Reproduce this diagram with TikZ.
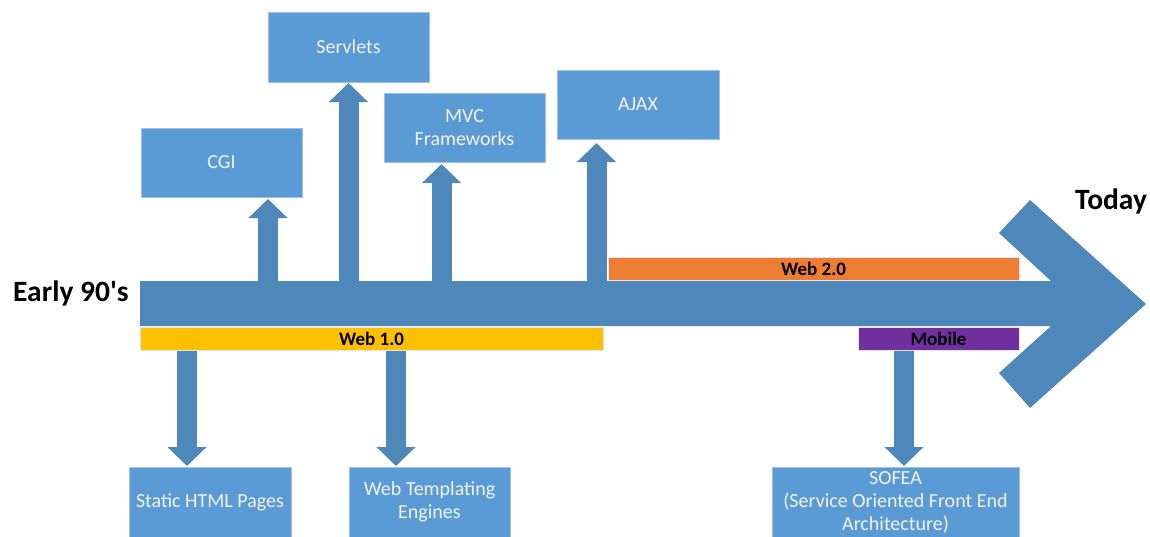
\documentclass[tikz,border=0pt]{standalone}
\usepackage{fontspec}
\setmainfont{Carlito}
\usetikzlibrary{arrows.meta}
\definecolor{boxblue}{HTML}{5B9BD5}
\definecolor{arrowblue}{HTML}{4E87BA}
\definecolor{webone}{HTML}{FFC000}
\definecolor{webtwo}{HTML}{ED7D31}
\definecolor{mobilepurple}{HTML}{7030A0}
\begin{document}
\begin{tikzpicture}[x=1pt,y=-1pt,
  techbox/.style={fill=boxblue, draw=boxblue!60!white, line width=0.7pt,
    text=white!95!black, font=\fontsize{20}{23}\selectfont, align=center,
    inner sep=0pt, outer sep=0pt, minimum width=161pt, minimum height=69pt},
  erabar/.style={draw=white!80!gray, line width=0.6pt, inner sep=0pt,
    outer sep=0pt, minimum height=23pt, text=black,
    font=\bfseries\fontsize{19}{20}\selectfont},
  branch/.style={draw=arrowblue, line width=20pt,
    -{Triangle[width=38pt,length=19pt]}},
  endlabel/.style={font=\bfseries\fontsize{29.5}{32}\selectfont, inner sep=0pt}]
\useasboundingbox (0,0) rectangle (1150,536);

% technology boxes above the time line
\node[techbox] (cgi)      at (221.5,162.5) {CGI};
\node[techbox, minimum height=70pt] (servlets) at (348.5,47) {Servlets};
\node[techbox] (mvc)      at (464.5,127.5) {MVC\\Frameworks};
\node[techbox, minimum width=162pt] (ajax) at (638,104.5) {AJAX};

% technology boxes below the time line
\node[techbox, minimum width=162pt, minimum height=70pt] (static) at (210,502) {Static HTML Pages};
\node[techbox, minimum height=70pt] (templ) at (429.5,502) {Web Templating\\Engines};
\node[techbox, minimum width=247pt, minimum height=70pt] (sofea) at (895.5,502)
  {SOFEA\\(Service Oriented Front End\\Architecture)};

% roots of the branch arrows on the time line
\coordinate (cgiroot)   at (268,283);
\coordinate (servroot)  at (348.5,283);
\coordinate (mvcroot)   at (441.5,283);
\coordinate (ajaxroot)  at (596.5,283);
\coordinate (statroot)  at (187,349);
\coordinate (templroot) at (396,349);
\coordinate (sofearoot) at (904,349);

\draw[branch, shorten >=2pt] (cgiroot)  -- (cgiroot |- cgi.south);
\draw[branch, shorten >=1pt] (servroot) -- (servroot |- servlets.south);
\draw[branch, shorten >=2pt] (mvcroot)  -- (mvcroot |- mvc.south);
\draw[branch, shorten >=4pt] (ajaxroot) -- (ajaxroot |- ajax.south);
\draw[branch, shorten >=1pt] (statroot)  -- (statroot |- static.north);
\draw[branch, shorten >=1pt] (templroot) -- (templroot |- templ.north);
\draw[branch, shorten >=1pt] (sofearoot) -- (sofearoot |- sofea.north);

% the time line arrow
\fill[arrowblue] (140,281) -- (1051,281) -- (999,233) -- (1030,200) -- (1146,304)
  -- (1030,408) -- (999,373) -- (1051,326) -- (140,326) -- cycle;

% eras
\node[erabar, fill=webone, minimum width=463pt] (web1) at (371.5,338.5) {Web 1.0};
\node[erabar, fill=webtwo, minimum width=411pt] (web2) at (813.5,268.5) {Web 2.0};
\node[erabar, fill=mobilepurple, minimum width=161pt] (mobile) at (938.5,338.5) {Mobile};

% ends of the time line
\node[endlabel, anchor=base west] (start) at (13,301) {Early 90\textquotesingle s};
\node[endlabel, anchor=base west] (today) at (1075,209) {Today};
\end{tikzpicture}
\end{document}
